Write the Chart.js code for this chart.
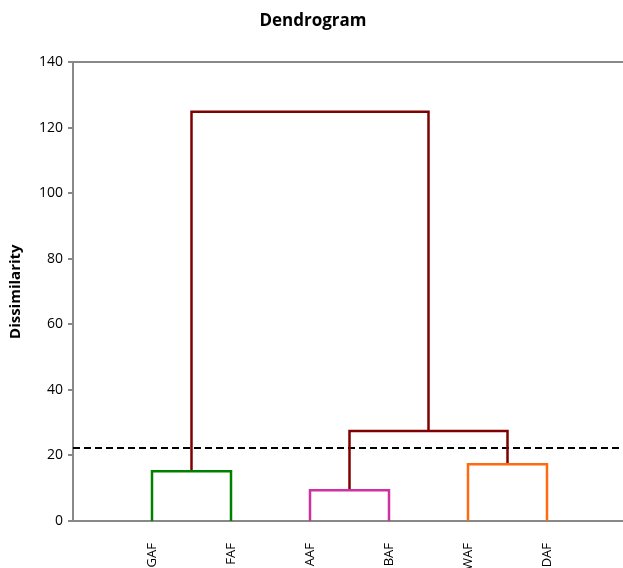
<!DOCTYPE html>
<html>
<head>
<meta charset="utf-8">
<script src="https://cdn.jsdelivr.net/npm/chart.js@4"></script>
<style>
  html, body { margin: 0; padding: 0; background: #fff; overflow: hidden; }
  #wrap { width: 630px; height: 580px; }
</style>
</head>
<body>
<div id="wrap"><canvas id="dendro" width="630" height="580"></canvas></div>
<script>
// Leaves in drawing order
const leaves = ['GAF', 'FAF', 'AAF', 'BAF', 'WAF', 'DAF'];

// Merges: [left child, right child] (leaf name or merge index), height, colour
const mergeLeft   = ['GAF', 'AAF', 'WAF', 1, 0];
const mergeRight  = ['FAF', 'BAF', 'DAF', 2, 3];
const mergeHeight = [15.2, 9.4, 17.3, 27.5, 124.9];
const mergeColor  = ['#008000', '#d030a0', '#ff6a10', '#7f0000', '#7f0000'];

// Truncation level
const cutLevel = 22.3;

const yTicks = [0, 20, 40, 60, 80, 100, 120, 140];

// Position of a node: leaves at 1..n, merges at the middle of their children
function nodePos(n) {
  if (typeof n === 'string') return { x: leaves.indexOf(n) + 1, y: 0 };
  const a = nodePos(mergeLeft[n]);
  const b = nodePos(mergeRight[n]);
  return { x: (a.x + b.x) / 2, y: mergeHeight[n] };
}

const datasets = mergeHeight.map((h, i) => {
  const a = nodePos(mergeLeft[i]);
  const b = nodePos(mergeRight[i]);
  return {
    data: [{ x: a.x, y: a.y }, { x: a.x, y: h }, { x: b.x, y: h }, { x: b.x, y: b.y }],
    borderColor: mergeColor[i],
    borderWidth: 2.5,
    borderJoinStyle: 'miter',
    pointRadius: 0,
    showLine: true,
    tension: 0
  };
});

datasets.push({
  data: [{ x: 0, y: cutLevel }, { x: leaves.length + 1, y: cutLevel }],
  borderColor: '#000',
  borderWidth: 2,
  borderDash: [7, 4],
  pointRadius: 0,
  showLine: true
});

const ctx = document.getElementById('dendro').getContext('2d');
new Chart(ctx, {
  type: 'scatter',
  data: { datasets: datasets },
  options: {
    responsive: false,
    animation: false,
    layout: { padding: { left: 0, right: 4, top: 0, bottom: 0 } },
    plugins: {
      legend: { display: false },
      tooltip: { enabled: false },
      title: {
        display: true,
        text: 'Dendrogram',
        color: '#000',
        font: { family: 'Open Sans', size: 17, weight: 'bold' },
        padding: { top: 11, bottom: 31 }
      }
    },
    scales: {
      x: {
        type: 'linear',
        min: 0,
        max: leaves.length + 1,
        afterFit: s => { s.height = 59; s.paddingLeft = 0; s.paddingRight = 0; },
        grid: { display: false },
        border: { color: '#888', width: 2 },
        ticks: {
          stepSize: 1,
          autoSkip: false,
          minRotation: 90,
          maxRotation: 90,
          padding: 14,
          color: '#000',
          font: { family: 'Open Sans', size: 13 },
          callback: v => leaves[v - 1] || ''
        }
      },
      y: {
        min: 0,
        max: 140,
        afterFit: s => { s.width = 73; },
        afterBuildTicks: s => { s.ticks = yTicks.map(v => ({ value: v })); },
        title: {
          display: true,
          text: 'Dissimilarity',
          color: '#000',
          font: { family: 'Open Sans', size: 15, weight: 'bold' },
          padding: { top: 7, bottom: 0 }
        },
        grid: {
          color: c => (c.tick && c.tick.value === 140 ? '#888' : 'rgba(0,0,0,0)'),
          lineWidth: 2,
          tickColor: '#888',
          tickLength: 5
        },
        border: { color: '#888', width: 2 },
        ticks: {
          padding: 5,
          color: '#000',
          font: { family: 'Open Sans', size: 14 }
        }
      }
    }
  }
});
</script>
</body>
</html>
